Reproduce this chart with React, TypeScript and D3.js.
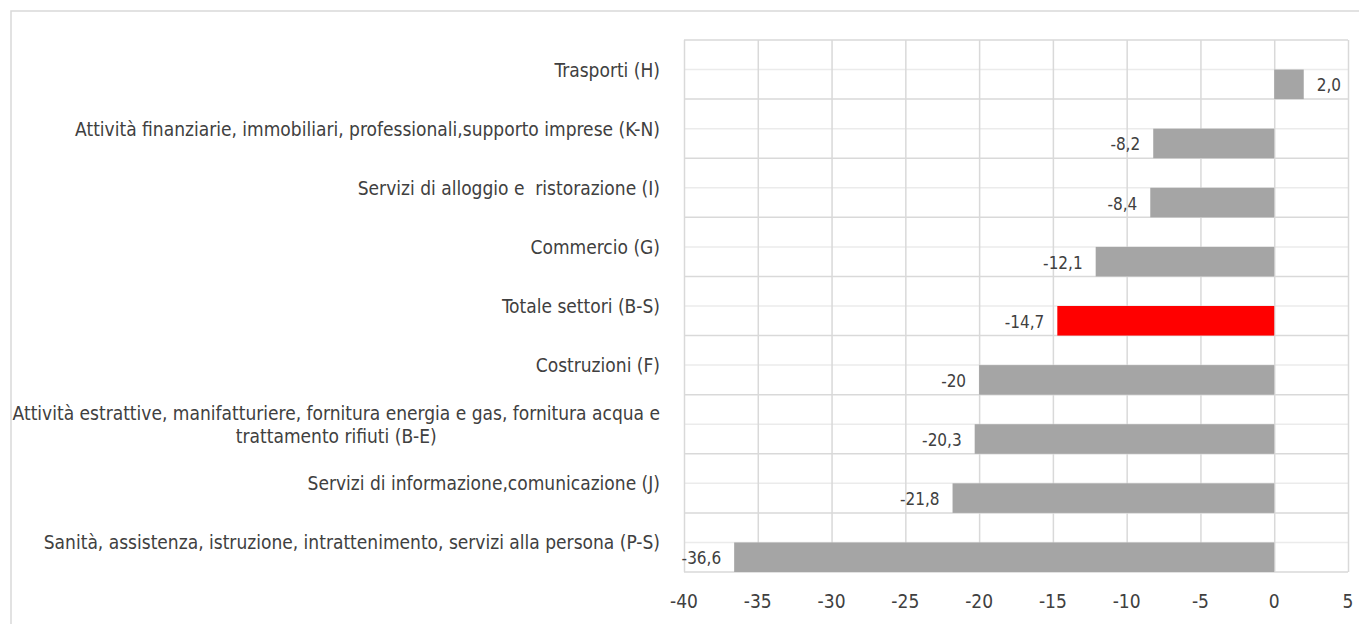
import { useEffect, useRef } from 'react';
import * as d3 from 'd3';

const categories = [
  'Trasporti (H)',
  'Attività finanziarie, immobiliari, professionali,supporto imprese (K-N)',
  'Servizi di alloggio e  ristorazione (I)',
  'Commercio (G)',
  'Totale settori (B-S)',
  'Costruzioni (F)',
  'Attività estrattive, manifatturiere, fornitura energia e gas, fornitura acqua e trattamento rifiuti (B-E)',
  'Servizi di informazione,comunicazione (J)',
  'Sanità, assistenza, istruzione, intrattenimento, servizi alla persona (P-S)',
];
const values = [2.0, -8.2, -8.4, -12.1, -14.7, -20, -20.3, -21.8, -36.6];
const valueLabels = ['2,0', '-8,2', '-8,4', '-12,1', '-14,7', '-20', '-20,3', '-21,8', '-36,6'];
const highlighted = ['Totale settori (B-S)'];
const xTicks = [-40, -35, -30, -25, -20, -15, -10, -5, 0, 5];

const W = 1359;
const H = 624;
const FONT = '"DejaVu Sans Condensed", "DejaVu Sans", sans-serif';
const TEXT = '#404040';

export default function App() {
  const svgRef = useRef<SVGSVGElement>(null);

  useEffect(() => {
    if (!svgRef.current) return;
    const svg = d3.select(svgRef.current);
    svg.selectAll('*').remove();

    const margin = { top: 40, right: 11, bottom: 52, left: 684 };
    const iw = 1348 - margin.left;
    const ih = 572 - margin.top;

    // outer chart frame
    svg.append('rect').attr('x', 11).attr('y', 11).attr('width', W + 20).attr('height', H + 20)
      .attr('fill', 'white').attr('stroke', '#d9d9d9').attr('stroke-width', 1.5);

    const g = svg.append('g').attr('transform', `translate(${margin.left},${margin.top})`);

    const x = d3.scaleLinear().domain([-40, 5]).range([0, iw]);
    const y = d3.scaleBand<string>().domain(categories).range([0, ih]).padding(0);
    const bw = y.bandwidth();

    // half-band (minor) grid lines
    g.append('g').selectAll('line').data(categories).join('line')
      .attr('x1', 0).attr('x2', iw)
      .attr('y1', (d) => (y(d) ?? 0) + bw / 2).attr('y2', (d) => (y(d) ?? 0) + bw / 2)
      .attr('stroke', '#ebebeb').attr('stroke-width', 1.5);

    // band boundary grid lines
    const bounds = [...categories.map((d) => y(d) ?? 0), ih];
    g.append('g').selectAll('line').data(bounds).join('line')
      .attr('x1', 0).attr('x2', iw).attr('y1', (d) => d).attr('y2', (d) => d)
      .attr('stroke', '#d9d9d9').attr('stroke-width', 1.5);

    g.append('g')
      .call(d3.axisBottom(x).tickValues(xTicks).tickSize(-ih).tickFormat(() => ''))
      .attr('transform', `translate(0,${ih})`)
      .call((gg) => {
        gg.select('.domain').remove();
        gg.selectAll('.tick line').attr('stroke', '#d9d9d9').attr('stroke-width', 1.5);
      });

    // tick labels
    g.append('g').selectAll('text').data(xTicks).join('text')
      .attr('x', (d) => x(d)).attr('y', ih + 29)
      .attr('text-anchor', 'middle').attr('dominant-baseline', 'central')
      .attr('font-family', FONT).attr('font-size', 19).attr('fill', TEXT)
      .text((d) => String(d));

    // bars in the lower half of each band
    g.append('g').selectAll('rect').data(categories).join('rect')
      .attr('x', (_, i) => x(Math.min(0, values[i])))
      .attr('y', (d) => (y(d) ?? 0) + bw / 2)
      .attr('width', (_, i) => Math.abs(x(values[i]) - x(0)))
      .attr('height', bw / 2)
      .attr('fill', (d) => (highlighted.includes(d) ? '#ff0000' : '#a5a5a5'));

    // value labels
    g.append('g').selectAll('text').data(categories).join('text')
      .attr('x', (_, i) => (values[i] < 0 ? x(values[i]) - 13 : x(values[i]) + 13))
      .attr('y', (d) => (y(d) ?? 0) + bw * 0.75 + 1)
      .attr('text-anchor', (_, i) => (values[i] < 0 ? 'end' : 'start'))
      .attr('dominant-baseline', 'central')
      .attr('font-family', FONT).attr('font-size', 17).attr('fill', TEXT)
      .text((_, i) => valueLabels[i]);

    // category labels, wrapped and centred as a block whose right edge is fixed
    const labelRight = 660;
    const maxWidth = 655;
    const lg = svg.append('g');
    categories.forEach((c) => {
      const words = c.split(' ');
      const probe = lg.append('text').attr('font-family', FONT).attr('font-size', 19)
        .style('white-space', 'pre');
      const lines: string[] = [];
      let cur = '';
      words.forEach((w) => {
        const next = cur === '' ? w : `${cur} ${w}`;
        probe.text(next);
        if ((probe.node()?.getComputedTextLength() ?? 0) > maxWidth && cur !== '') {
          lines.push(cur);
          cur = w;
        } else cur = next;
      });
      lines.push(cur);
      const widths = lines.map((l) => { probe.text(l); return probe.node()?.getComputedTextLength() ?? 0; });
      probe.remove();
      const bw0 = Math.max(...widths);
      const cy = margin.top + (y(c) ?? 0) + bw / 2;
      const lh = 23;
      lines.forEach((l, k) => {
        lg.append('text')
          .attr('x', labelRight - bw0 / 2)
          .attr('y', cy + (k - (lines.length - 1) / 2) * lh)
          .attr('text-anchor', 'middle').attr('dominant-baseline', 'central')
          .attr('font-family', FONT).attr('font-size', 19).attr('fill', TEXT)
          .style('white-space', 'pre')
          .text(l);
      });
    });
  }, []);

  return (
    <svg ref={svgRef} width={W} height={H}
      style={{ position: 'absolute', left: 0, top: 0, background: 'white', display: 'block' }} />
  );
}
